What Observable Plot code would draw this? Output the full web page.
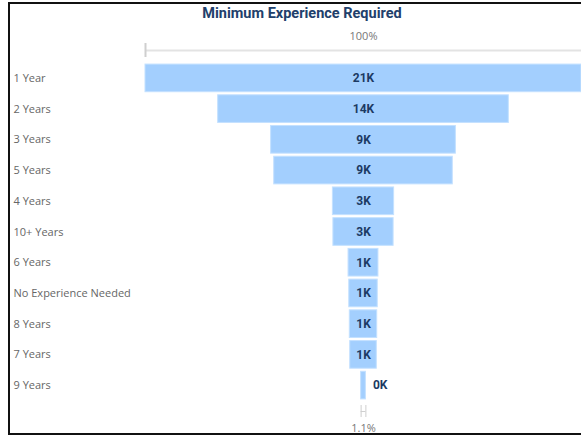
<!DOCTYPE html>
<html>
<head>
<meta charset="utf-8">
<script src="https://cdn.jsdelivr.net/npm/d3@7"></script>
<script src="https://cdn.jsdelivr.net/npm/@observablehq/plot@0.6"></script>
<style>
  html, body { margin: 0; padding: 0; background: #fff; overflow: hidden; }
  #wrap { position: relative; width: 581px; height: 436px; overflow: hidden; background: #fff; }
  #frame { position: absolute; left: 8px; top: 2px; width: 640px; height: 429px;
           border-left: 2px solid #111; border-top: 2px solid #111; border-bottom: 2px solid #111; }
  #title { position: absolute; left: 0; top: 5px; width: 604px; text-align: center;
           font-family: Roboto, sans-serif; font-weight: bold; font-size: 14.5px; color: #21406b; }
  .layer { position: absolute; left: 0; }
  svg { overflow: visible; }
</style>
</head>
<body>
<div id="wrap">
  <div id="frame"></div>
  <div id="title">Minimum Experience Required</div>
  <div id="head" class="layer" style="top:0"></div>
  <div id="main" class="layer" style="top:61px"></div>
  <div id="foot" class="layer" style="top:402px"></div>
</div>
<script>
const categories = ["1 Year", "2 Years", "3 Years", "5 Years", "4 Years", "10+ Years",
  "6 Years", "No Experience Needed", "8 Years", "7 Years", "9 Years"];
const counts = [21000, 14000, 8900, 8600, 2950, 2900, 1440, 1370, 1320, 1280, 230];

const rows = categories.map((c, i) => ({cat: c, v: counts[i]}));
const maxV = d3.max(counts);
const lastV = counts[counts.length - 1];
const W = 581;
const xDomain = [-maxV / 2, maxV / 2];
const fmtK = v => Math.round(v / 1000) + "K";
const barFill = "#a3cffe";
const labelColor = "#1c3a63";
const inside = d => d.v / maxV >= 0.05;

// header: 100% reference line
const head = Plot.plot({
  width: W, height: 61,
  margin: 0, marginLeft: 145, marginRight: 0,
  x: {domain: xDomain, axis: null},
  y: {domain: [0, 61], range: [0, 61], axis: null},
  marks: [
    Plot.ruleY([{v: maxV}], {y: 50, x1: d => -d.v / 2, x2: d => d.v / 2, stroke: "#e3e3e3", strokeWidth: 2}),
    Plot.ruleX([{v: maxV}], {x: d => -d.v / 2, y1: 43, y2: 57, stroke: "#cfcfcf", strokeWidth: 2}),
    Plot.text([{v: maxV}], {x: 0, y: 36, text: d => Math.round(d.v / maxV * 100) + "%",
      fill: "#777", fontSize: 11, fontFamily: "'Open Sans', sans-serif"})
  ]
});
document.getElementById("head").appendChild(head);

// main funnel
const main = Plot.plot({
  width: W, height: 341,
  marginTop: 0, marginBottom: 0, marginLeft: 145, marginRight: 0,
  x: {domain: xDomain, axis: null},
  y: {domain: categories, axis: null, padding: 0.1, round: false},
  marks: [
    Plot.barX(rows, {y: "cat", x1: d => -d.v / 2, x2: d => d.v / 2, fill: barFill,
      stroke: "#c4e1ff", strokeWidth: 1}),
    Plot.text(rows, {y: "cat", text: "cat", frameAnchor: "left", textAnchor: "start", dx: -132,
      fill: "#666", fontSize: 11, fontFamily: "'Open Sans', sans-serif"}),
    Plot.text(rows.filter(inside), {y: "cat", x: 0, text: d => fmtK(d.v),
      fill: labelColor, fontSize: 12, fontWeight: "bold", fontFamily: "Roboto, sans-serif"}),
    Plot.text(rows.filter(d => !inside(d)), {y: "cat", x: d => d.v / 2, dx: 7, textAnchor: "start",
      text: d => fmtK(d.v), fill: labelColor, fontSize: 12, fontWeight: "bold", fontFamily: "Roboto, sans-serif"})
  ]
});
document.getElementById("main").appendChild(main);

// footer: last-stage indicator and percentage
const foot = Plot.plot({
  width: W, height: 34,
  margin: 0, marginLeft: 145, marginRight: 0,
  x: {domain: xDomain, axis: null},
  y: {domain: [0, 34], range: [0, 34], axis: null},
  marks: [
    Plot.ruleX([-lastV / 2, lastV / 2], {y1: 3, y2: 15, stroke: "#cfcfcf", strokeWidth: 1}),
    Plot.ruleY([{v: lastV}], {y: 9, x1: d => -d.v / 2, x2: d => d.v / 2, stroke: "#cfcfcf", strokeWidth: 1}),
    Plot.text([{v: lastV}], {x: 0, y: 25.5, text: d => (d.v / maxV * 100).toFixed(1) + "%",
      fill: "#777", fontSize: 11, fontFamily: "'Open Sans', sans-serif"})
  ]
});
document.getElementById("foot").appendChild(foot);
</script>
</body>
</html>
